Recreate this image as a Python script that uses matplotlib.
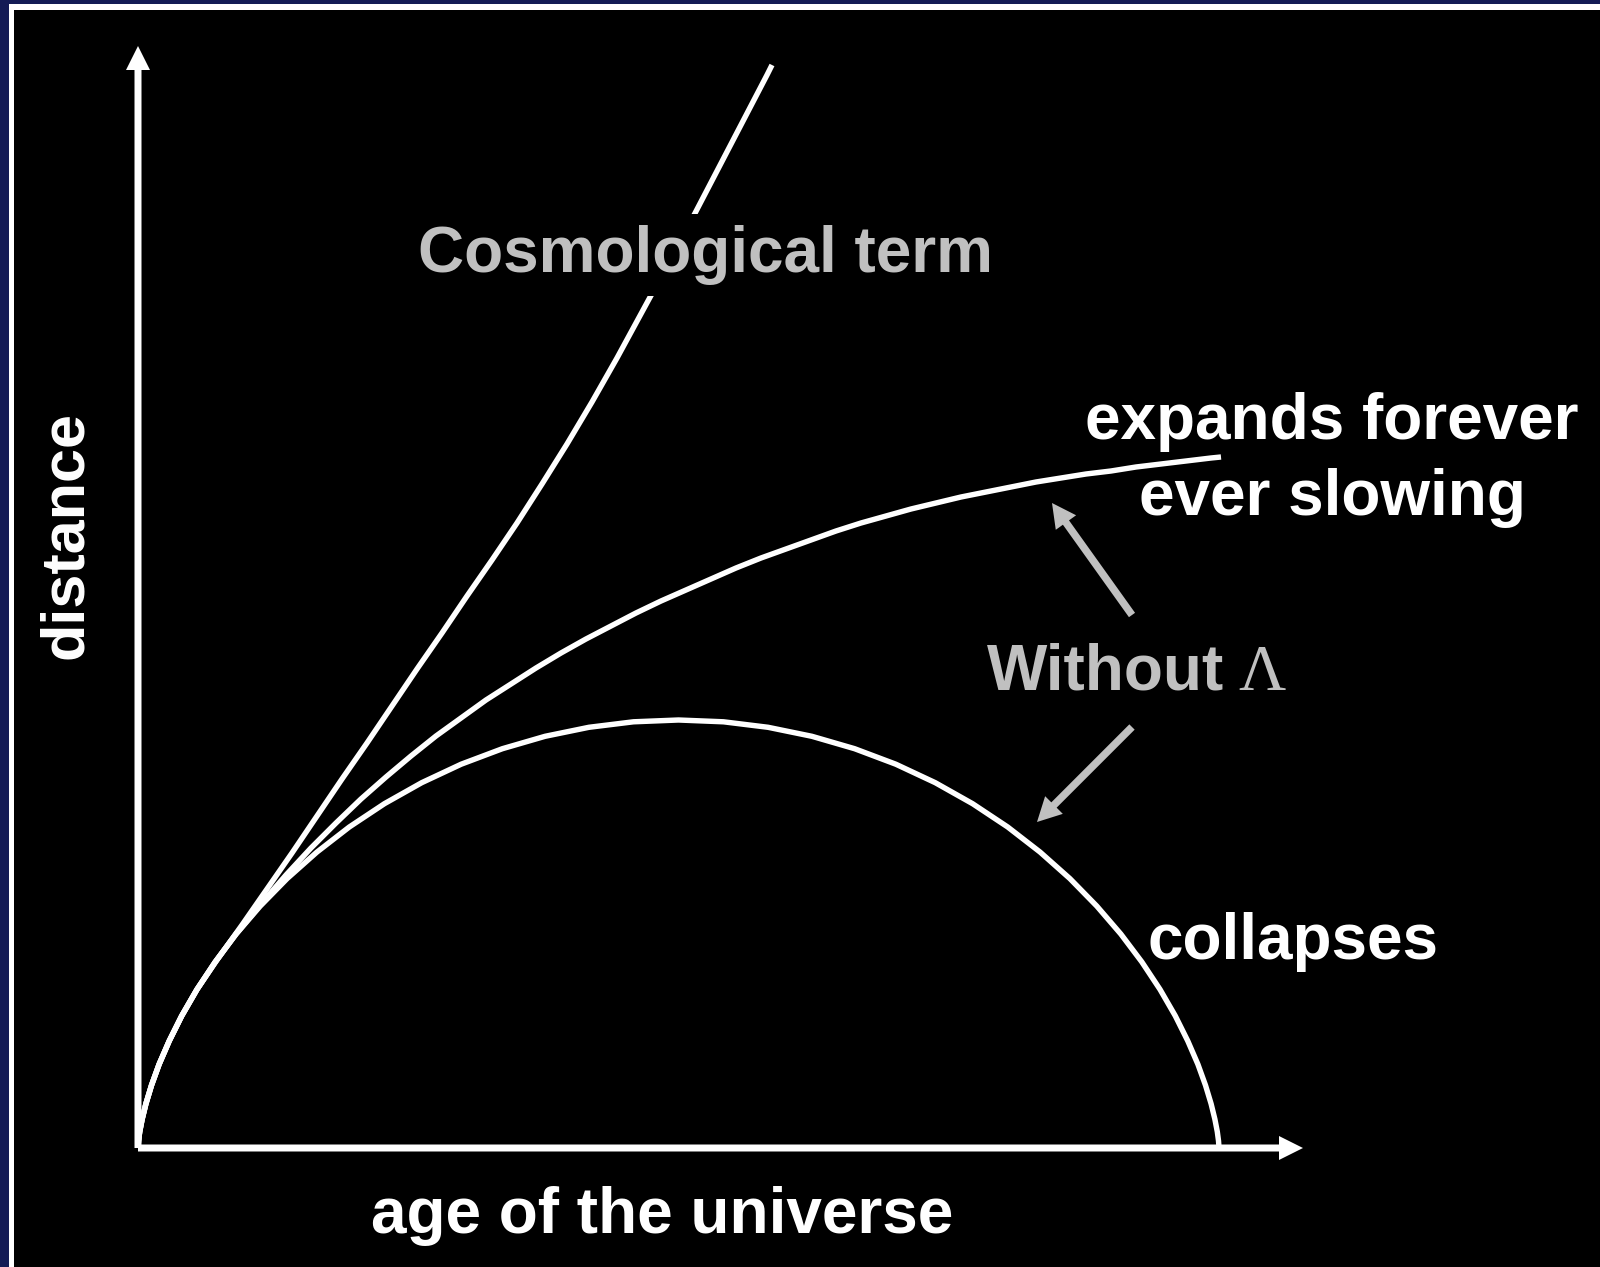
import matplotlib.pyplot as plt
from matplotlib.patches import Rectangle, FancyArrow

# schematic units: age along x, distance along y
age_collapse = [0, 0.001, 0.005, 0.017, 0.041, 0.079, 0.135, 0.211, 0.312, 0.437, 0.590, 0.772,
                0.982, 1.222, 1.491, 1.789, 2.113, 2.464, 2.837, 3.232, 3.644, 4.071, 4.509, 4.955,
                5.405, 5.855, 6.301, 6.739, 7.166, 7.578, 7.973, 8.346, 8.697, 9.021, 9.319, 9.588,
                9.828, 10.038, 10.220, 10.373, 10.498, 10.599, 10.675, 10.731, 10.769, 10.793,
                10.805, 10.809, 10.81]
dist_collapse = [0, 0.018, 0.073, 0.163, 0.287, 0.442, 0.627, 0.837, 1.070, 1.321, 1.586, 1.861,
                 2.140, 2.419, 2.694, 2.959, 3.210, 3.443, 3.653, 3.838, 3.993, 4.117, 4.207, 4.262,
                 4.280, 4.262, 4.207, 4.117, 3.993, 3.838, 3.653, 3.443, 3.210, 2.959, 2.694, 2.419,
                 2.140, 1.861, 1.586, 1.321, 1.070, 0.837, 0.627, 0.442, 0.287, 0.163, 0.073,
                 0.018, 0]

age_forever = [0, 0.001, 0.005, 0.017, 0.041, 0.079, 0.135, 0.211, 0.312, 0.437, 0.590, 0.772,
               0.98, 1.23, 1.48, 1.73, 1.98, 2.23, 2.48, 2.73, 2.98, 3.23, 3.48, 3.73, 3.98, 4.23,
               4.48, 4.73, 4.98, 5.23, 5.48, 5.73, 5.98, 6.23, 6.48, 6.73, 6.98, 7.23, 7.48, 7.73,
               7.98, 8.23, 8.48, 8.73, 8.98, 9.23, 9.48, 9.73, 9.98, 10.23, 10.48, 10.73, 10.83]
dist_forever = [0, 0.018, 0.073, 0.163, 0.287, 0.442, 0.627, 0.837, 1.070, 1.321, 1.586, 1.861,
                2.14, 2.44, 2.73, 3.00, 3.25, 3.49, 3.71, 3.92, 4.12, 4.30, 4.48, 4.64, 4.80, 4.95,
                5.09, 5.22, 5.35, 5.47, 5.58, 5.69, 5.80, 5.90, 5.99, 6.08, 6.17, 6.25, 6.32, 6.39,
                6.45, 6.51, 6.56, 6.61, 6.66, 6.70, 6.74, 6.77, 6.81, 6.84, 6.87, 6.90, 6.91]

age_lambda = [0, 0.001, 0.005, 0.017, 0.041, 0.079, 0.135, 0.211, 0.312, 0.437, 0.590, 0.79,
              1.04, 1.29, 1.54, 1.79, 2.04, 2.29, 2.54, 2.79, 3.04, 3.29, 3.54, 3.79, 4.04, 4.29,
              4.54, 4.79, 5.04, 5.29, 5.54, 5.79, 6.04, 6.29, 6.34]
dist_lambda = [0, 0.018, 0.073, 0.163, 0.287, 0.442, 0.627, 0.837, 1.070, 1.321, 1.586, 1.88,
               2.23, 2.59, 2.95, 3.32, 3.69, 4.05, 4.42, 4.79, 5.15, 5.52, 5.88, 6.25, 6.64, 7.04,
               7.46, 7.90, 8.36, 8.82, 9.29, 9.77, 10.25, 10.73, 10.83]

W, H = 1600, 1267
fig = plt.figure(figsize=(W / 100, H / 100), dpi=100, facecolor='#141b55')

# slide frame: white border, black panel
fig.patches.append(Rectangle((9 / W, 0), 1 - 9 / W, 1 - 4 / H, transform=fig.transFigure,
                             facecolor='white', edgecolor='none', zorder=-10))
fig.patches.append(Rectangle((14 / W, 0), 1 - 14 / W, 1 - 10 / H, transform=fig.transFigure,
                             facecolor='black', edgecolor='none', zorder=-9))

ox, oy = 138, 1148
ax = fig.add_axes([ox / W, (H - oy) / H, 1 - ox / W, oy / H])
ax.set_xlim(0, (W - ox) / 100)
ax.set_ylim(0, oy / 100)
ax.set_axis_off()

lw = 3.9
for xs, ys in [(age_collapse, dist_collapse), (age_forever, dist_forever), (age_lambda, dist_lambda)]:
    ax.plot(xs, ys, color='white', lw=lw, solid_capstyle='butt', solid_joinstyle='round',
            zorder=2, clip_on=False)

# axes arrows
ax.add_patch(FancyArrow(0, 0, 11.65, 0, width=0.07, head_width=0.24, head_length=0.24,
                        length_includes_head=True, color='white', lw=0, zorder=3, clip_on=False))
ax.add_patch(FancyArrow(0, 0, 0, 11.02, width=0.07, head_width=0.24, head_length=0.24,
                        length_includes_head=True, color='white', lw=0, zorder=3, clip_on=False))

gray = '#c0c0c0'
ax.add_patch(FancyArrow(9.94, 5.33, 9.14 - 9.94, 6.45 - 5.33, width=0.075, head_width=0.25,
                        head_length=0.24, length_includes_head=True, color=gray, lw=0, zorder=3))
ax.add_patch(FancyArrow(9.94, 4.21, 8.99 - 9.94, 3.26 - 4.21, width=0.075, head_width=0.25,
                        head_length=0.24, length_includes_head=True, color=gray, lw=0, zorder=3))

font = dict(family='Liberation Sans', weight='bold', fontsize=46)
ax.text(5.68, 8.76, 'Cosmological term', color=gray, ha='center', va='baseline', zorder=5,
        bbox=dict(boxstyle='square,pad=0.17', facecolor='black', edgecolor='none'), **font)
ax.text(11.94, 7.09, 'expands forever', color='white', ha='center', va='baseline', zorder=5, **font)
ax.text(11.94, 6.33, 'ever slowing', color='white', ha='center', va='baseline', zorder=5, **font)
ax.text(8.49, 4.58, 'Without', color=gray, ha='left', va='baseline', zorder=5, **font)
ax.text(11.00, 4.58, '\u039b', color=gray, ha='left', va='baseline', zorder=5,
        family='Liberation Serif', fontsize=47)
ax.text(10.10, 1.89, 'collapses', color='white', ha='left', va='baseline', zorder=5, **font)
ax.text(5.24, -0.85, 'age of the universe', color='white', ha='center', va='baseline',
        zorder=5, clip_on=False, **font)
ax.text(-0.56, 6.13, 'distance', color='white', rotation=90, rotation_mode='anchor',
        ha='center', va='baseline', zorder=5, clip_on=False, fontsize=44,
        family='Liberation Sans', weight='bold')

fig.savefig('out.png', dpi=100, facecolor=fig.get_facecolor())
